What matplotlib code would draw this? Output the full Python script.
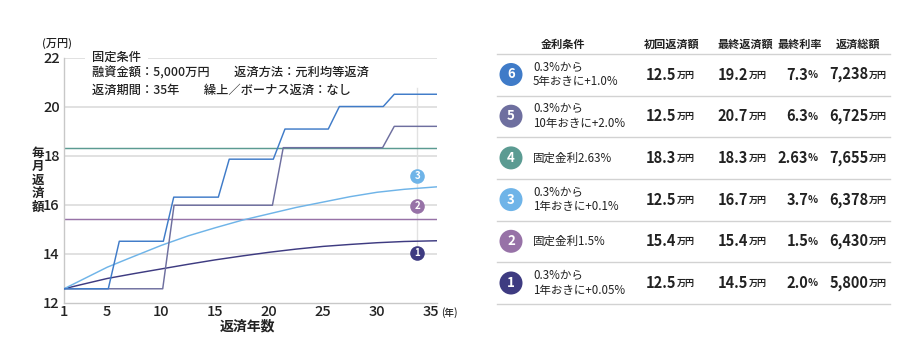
import matplotlib
matplotlib.use("Agg")
import matplotlib.pyplot as plt
from matplotlib.patches import Circle
from matplotlib import transforms

plt.rcParams['font.family'] = ['Noto Sans CJK JP', 'DejaVu Sans']

# ---------------- data ----------------
years_ticks = [1, 5, 10, 15, 20, 25, 30, 35]
y_ticks = [12, 14, 16, 18, 20, 22]

s6_x = [1, 5.1, 6.12, 10.2, 11.16, 15.29, 16.3, 20.38, 21.46, 25.47, 26.5, 30.56, 31.58, 35.5]
s6_y = [12.56, 12.56, 14.5, 14.5, 16.3, 16.3, 17.85, 17.85, 19.08, 19.08, 20.0, 20.0, 20.5, 20.5]

s5_x = [1, 10.14, 11.19, 20.3, 21.3, 30.5, 31.58, 35.5]
s5_y = [12.56, 12.56, 15.97, 15.97, 18.32, 18.32, 19.19, 19.19]

s4_x = [1, 35.5]
s4_y = [18.31, 18.31]

s3_x = [1, 3, 5, 7, 10, 12.5, 15, 17.5, 20, 22.5, 25, 27.5, 30, 32.5, 35.5]
s3_y = [12.56, 13.0, 13.44, 13.8, 14.33, 14.72, 15.05, 15.36, 15.62, 15.88, 16.1, 16.32, 16.5, 16.62, 16.72]

s2_x = [1, 35.5]
s2_y = [15.39, 15.39]

s1_x = [1, 2.5, 5, 7.5, 10, 12.5, 15, 17.5, 20, 22.5, 25, 27.5, 30, 32.5, 35.5]
s1_y = [12.56, 12.72, 12.98, 13.18, 13.37, 13.56, 13.74, 13.9, 14.05, 14.18, 14.29, 14.37, 14.44, 14.49, 14.52]

marker_x = 33.7
marker_labels = ["3", "2", "1"]
marker_y = [17.16, 15.94, 14.02]

row_ids = ["6", "5", "4", "3", "2", "1"]
conditions = ["0.3%から\n5年おきに+1.0%", "0.3%から\n10年おきに+2.0%", "固定金利2.63%",
              "0.3%から\n1年おきに+0.1%", "固定金利1.5%", "0.3%から\n1年おきに+0.05%"]
first_pay = ["12.5", "12.5", "18.3", "12.5", "15.4", "12.5"]
last_pay = ["19.2", "20.7", "18.3", "16.7", "15.4", "14.5"]
last_rate = ["7.3", "6.3", "2.63", "3.7", "1.5", "2.0"]
total_pay = ["7,238", "6,725", "7,655", "6,378", "6,430", "5,800"]
headers = ["金利条件", "初回返済額", "最終返済額", "最終利率", "返済総額"]
y_label = "毎月返済額"

colors = {"6": "#3f7bc8", "5": "#6e6f9f", "4": "#5b9b92", "3": "#6fb4e8",
          "2": "#9772a7", "1": "#3e3b81"}

W, H = 921, 358
fig = plt.figure(figsize=(W / 100, H / 100), dpi=100)

# ---------------- chart ----------------
ax = fig.add_axes([64 / W, 1 - 302.5 / H, (436.6 - 64) / W, (302.5 - 57.5) / H])
ax.set_xlim(1, 35.5)
ax.set_ylim(12, 22)
for yv in y_ticks[1:]:
    ax.axhline(yv, color="#dcdcdc", lw=1.2, zorder=0)
for sp in ["top", "right"]:
    ax.spines[sp].set_visible(False)
for sp in ["left", "bottom"]:
    ax.spines[sp].set_color("#c8c8c8")
    ax.spines[sp].set_linewidth(1.0)
ax.set_xticks(years_ticks)
ax.set_yticks(y_ticks)
ax.set_xticklabels([str(v) for v in years_ticks], fontsize=10.5, color="#222", fontweight="medium")
ax.set_yticklabels([str(v) for v in y_ticks], fontsize=10.5, color="#222", fontweight="medium")
ax.tick_params(axis="y", length=0, pad=3)
ax.tick_params(axis="x", length=0, pad=2)

# faint vertical guide for markers
ax.plot([marker_x, marker_x], [marker_y[-1], 20.75], color="#e2e2e2", lw=1.0, zorder=1)

lw = 1.05
ax.plot(s2_x, s2_y, color=colors["2"], lw=lw, zorder=2)
ax.plot(s4_x, s4_y, color=colors["4"], lw=lw, zorder=2)
ax.plot(s1_x, s1_y, color=colors["1"], lw=lw, zorder=3)
ax.plot(s3_x, s3_y, color=colors["3"], lw=lw, zorder=3)
ax.plot(s5_x, s5_y, color=colors["5"], lw=lw, zorder=4)
ax.plot(s6_x, s6_y, color=colors["6"], lw=lw, zorder=5)

for lab, yv in zip(marker_labels, marker_y):
    ax.plot([marker_x], [yv], marker="o", ms=10.5, color=colors[lab], mec="none", zorder=6)
    ax.text(marker_x, yv, lab, color="white", fontsize=7, fontweight="bold",
            ha="center", va="center", zorder=7)

# conditions box
cx = 3.6
ax.text(cx, 22, "固定条件", fontsize=8.8, color="#222", ha="left", va="center",
        fontweight="medium", bbox=dict(facecolor="white", edgecolor="none", pad=5), zorder=8)
ax.text(cx, 21.37, "融資金額：5,000万円　　返済方法：元利均等返済", fontsize=8.8, color="#222",
        fontweight="medium", ha="left", va="center", zorder=8)
ax.text(cx, 20.65, "返済期間：35年　　繰上／ボーナス返済：なし", fontsize=8.8, color="#222",
        fontweight="medium", ha="left", va="center", zorder=8)

# overlay for labels in pixel coords
ov = fig.add_axes([0, 0, 1, 1], zorder=10)
ov.set_xlim(0, W)
ov.set_ylim(H, 0)
ov.axis("off")
ov.patch.set_alpha(0)

ov.text(57, 43, "(万円)", fontsize=8, color="#222", ha="center", va="center", fontweight="medium")
for k, ch in enumerate(y_label):
    ov.text(38, 153 + k * 13.5, ch, fontsize=9, color="#222", ha="center", va="center",
            fontweight="bold")
ov.text(247, 326, "返済年数", fontsize=10, color="#222", ha="center", va="center", fontweight="bold")
ov.text(449, 313, "(年)", fontsize=7, color="#222", ha="center", va="center", fontweight="medium")

# ---------------- table ----------------
line_color = "#d2d2d2"
x_l, x_r = 497, 890
header_y = 44
ov.plot([x_l, x_r], [53.5, 53.5], color=line_color, lw=1.0)
header_x = [563, 672, 745, 800, 858]
for hx, ht in zip(header_x, headers):
    ov.text(hx, header_y, ht, fontsize=8, fontweight="bold", color="#222",
            ha="center", va="center")

row_h = 41.7
first_y = 74.5
col_first = 695
col_last = 767
col_rate = 818
col_total = 887

unit_off = transforms.offset_copy(ov.transData, fig=fig, x=-13.5, y=0, units="points")
pct_off = transforms.offset_copy(ov.transData, fig=fig, x=-7.0, y=0, units="points")

for i, rid in enumerate(row_ids):
    cy = first_y + i * row_h
    ov.plot([x_l, x_r], [cy + 21, cy + 21], color=line_color, lw=1.0)
    ov.add_patch(Circle((511, cy), 11.5, color=colors[rid], lw=0))
    ov.text(511, cy, rid, color="white", fontsize=9.5, fontweight="bold",
            ha="center", va="center")
    ov.text(533, cy, conditions[i], fontsize=8.3, color="#222", ha="left", va="center",
            linespacing=1.15)
    for colx, val in [(col_first, first_pay[i]), (col_last, last_pay[i]), (col_total, total_pay[i])]:
        ov.text(colx, cy + 0.5, "万円", fontsize=6.5, fontweight="bold", color="#222",
                ha="right", va="center")
        ov.text(colx, cy, val, fontsize=10.5, fontweight="bold", color="#222",
                ha="right", va="center", transform=unit_off)
    ov.text(col_rate, cy + 0.5, "%", fontsize=7.5, fontweight="bold", color="#222",
            ha="right", va="center")
    ov.text(col_rate, cy, last_rate[i], fontsize=10.5, fontweight="bold", color="#222",
            ha="right", va="center", transform=pct_off)

fig.savefig("out.png", dpi=100, facecolor="white")
